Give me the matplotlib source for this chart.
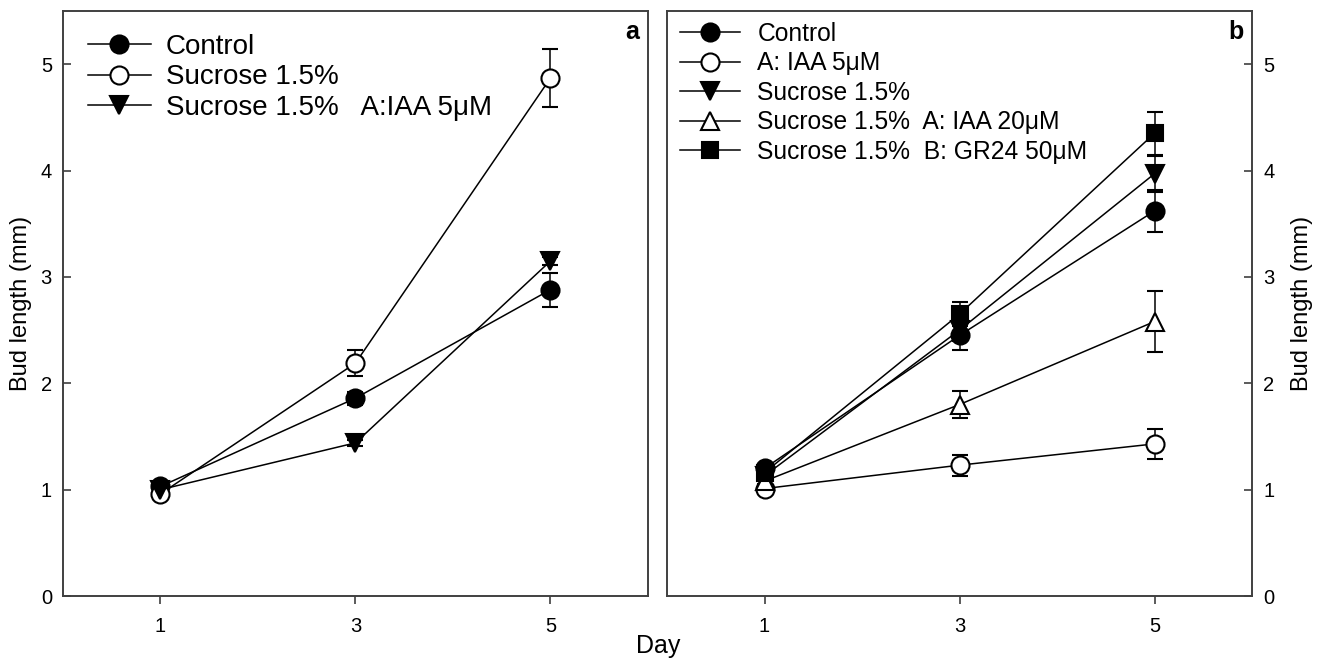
import matplotlib
matplotlib.use("Agg")
import matplotlib.pyplot as plt
import numpy as np

plt.rcParams['font.family'] = ['Liberation Sans', 'DejaVu Sans']

days = [1, 3, 5]

# Panel a
a_labels = ["Control", "Sucrose 1.5%", "Sucrose 1.5%   A:IAA 5μM"]
a_control = [1.03, 1.86, 2.88]
a_control_err = [0.03, 0.06, 0.16]
a_sucrose = [0.96, 2.19, 4.87]
a_sucrose_err = [0.05, 0.12, 0.27]
a_suc_iaa = [1.00, 1.44, 3.15]
a_suc_iaa_err = [0.02, 0.03, 0.04]

# Panel b
b_labels = ["Control", "A: IAA 5μM", "Sucrose 1.5%",
            "Sucrose 1.5%  A: IAA 20μM", "Sucrose 1.5%  B: GR24 50μM"]
b_control = [1.20, 2.45, 3.62]
b_control_err = [0.04, 0.14, 0.20]
b_iaa5 = [1.01, 1.23, 1.43]
b_iaa5_err = [0.03, 0.10, 0.14]
b_sucrose = [1.13, 2.50, 3.97]
b_sucrose_err = [0.04, 0.10, 0.17]
b_iaa20 = [1.08, 1.80, 2.58]
b_iaa20_err = [0.03, 0.13, 0.29]
b_gr24 = [1.16, 2.65, 4.35]
b_gr24_err = [0.04, 0.11, 0.20]

fig = plt.figure(figsize=(13.21, 6.58), dpi=100)
axa = fig.add_axes([63/1321, 62/658, (648-63)/1321, (596-11)/658])
axb = fig.add_axes([667/1321, 62/658, (1252-667)/1321, (596-11)/658])

styles_a = [
    (a_control, a_control_err, 'o', 'black'),
    (a_sucrose, a_sucrose_err, 'o', 'white'),
    (a_suc_iaa, a_suc_iaa_err, 'v', 'black'),
]
styles_b = [
    (b_control, b_control_err, 'o', 'black'),
    (b_iaa5, b_iaa5_err, 'o', 'white'),
    (b_sucrose, b_sucrose_err, 'v', 'black'),
    (b_iaa20, b_iaa20_err, '^', 'white'),
    (b_gr24, b_gr24_err, 's', 'black'),
]

def draw(ax, styles, labels):
    handles = []
    for (vals, err, m, fc), lab in zip(styles, labels):
        ms = 11.5 if m == 's' else 13
        eb = ax.errorbar(days, vals, yerr=err, color='black', lw=1.1,
                         marker=m, ms=ms, mfc=fc, mec='black', mew=1.5,
                         capsize=6, capthick=1.1, elinewidth=1.1, label=lab)
        handles.append(eb)
    ax.set_xlim(0, 6)
    ax.set_ylim(0, 5.5)
    ax.set_xticks([1, 3, 5])
    ax.set_yticks([0, 1, 2, 3, 4, 5])
    ax.tick_params(axis='x', direction='out', length=6, width=1.2, labelsize=14.5,
                   color='#404040', pad=9)
    ax.tick_params(axis='y', direction='in', length=6, width=1.2, labelsize=14.5,
                   color='#404040', pad=8)
    for s in ax.spines.values():
        s.set_color('#404040')
        s.set_linewidth(1.4)
    return handles

ha = draw(axa, styles_a, a_labels)
hb = draw(axb, styles_b, b_labels)

leg_a = axa.legend(handles=[h[0] for h in ha], labels=a_labels, loc='upper left',
                   frameon=False, fontsize=20, handlelength=2.27,
                   borderaxespad=0.0, labelspacing=0.16, handletextpad=0.54,
                   bbox_to_anchor=(0.023, 0.98))
leg_b = axb.legend(handles=[h[0] for h in hb], labels=b_labels, loc='upper left',
                   frameon=False, fontsize=17.75, handlelength=2.43,
                   borderaxespad=0.0, labelspacing=0.22, handletextpad=0.69,
                   bbox_to_anchor=(0.006, 0.998))

axb.yaxis.tick_right()
axb.yaxis.set_label_position('right')

axa.set_ylabel('Bud length (mm)', fontsize=17, labelpad=6)
axb.set_ylabel('Bud length (mm)', fontsize=17, labelpad=12)

axa.text(0.985, 0.985, 'a', transform=axa.transAxes, ha='right', va='top',
         fontsize=18, fontweight='bold')
axb.text(0.985, 0.985, 'b', transform=axb.transAxes, ha='right', va='top',
         fontsize=18, fontweight='bold')

fig.text(658/1321, 1 - 646/658, 'Day', ha='center', va='center', fontsize=18)

fig.savefig('out.png', dpi=100)
